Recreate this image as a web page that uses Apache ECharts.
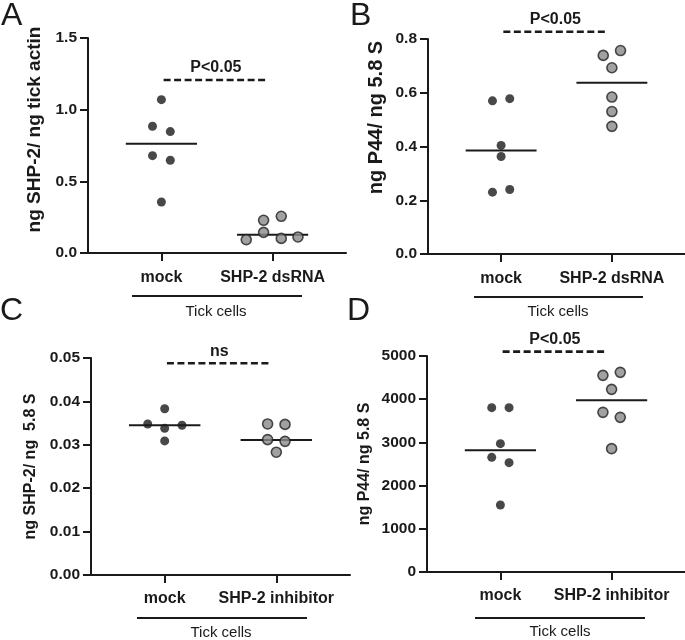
<!DOCTYPE html>
<html>
<head>
<meta charset="utf-8">
<script src="https://cdn.jsdelivr.net/npm/echarts@6/dist/echarts.min.js"></script>
<style>
  html, body { margin: 0; padding: 0; background: #fff; }
  #main { width: 685px; height: 640px; }
</style>
</head>
<body>
<div id="main"></div>
<script>
// categories
var catsA = ['mock', 'SHP-2 dsRNA'];
var catsC = ['mock', 'SHP-2 inhibitor'];

// panel A: ng SHP-2 / ng tick actin
var aMock = [1.07, 0.884, 0.847, 0.679, 0.647, 0.356];
var aMockJit = [0, -0.08, 0.08, -0.08, 0.08, 0];
var aDs = [0.093, 0.228, 0.144, 0.256, 0.102, 0.112];
var aDsJit = [-0.237, -0.081, -0.081, 0.078, 0.078, 0.228];
var aMeans = [0.763, 0.128];

// panel B: ng P44 / ng 5.8 S
var bMock = [0.570, 0.578, 0.404, 0.363, 0.230, 0.240];
var bMockJit = [-0.078, 0.078, 0, 0, -0.078, 0.078];
var bDs = [0.739, 0.757, 0.693, 0.584, 0.530, 0.475];
var bDsJit = [-0.078, 0.078, 0, 0, 0, 0];
var bMeans = [0.385, 0.637];

// panel C: ng SHP-2 / ng 5.8 S
var cMock = [0.0383, 0.0348, 0.0338, 0.0345, 0.0309];
var cMockJit = [0, -0.152, 0, 0.155, 0];
var cInh = [0.0348, 0.0347, 0.0312, 0.0308, 0.0283];
var cInhJit = [-0.078, 0.078, -0.078, 0.078, 0];
var cMeans = [0.0345, 0.0311];

// panel D: ng P44 / ng 5.8 S
var dMock = [3804, 3804, 2971, 2654, 2531, 1551];
var dMockJit = [-0.078, 0.078, 0, -0.078, 0.078, 0];
var dInh = [4552, 4622, 4228, 3696, 3580, 2855];
var dInhJit = [-0.078, 0.078, 0, -0.078, 0.078, 0];
var dMeans = [2816, 3974];

// significance bars
var sigText = ['P<0.05', 'P<0.05', 'ns', 'P<0.05'];
var sigLevel = [1.207, 0.827, 0.0488, 5102];

// y axes
var yMax = [1.5, 0.8, 0.05, 5000];
var yStep = [0.5, 0.2, 0.01, 1000];
var yDigits = [1, 1, 2, 0];
var yNames = ['ng SHP-2/ ng tick actin', 'ng P44/ ng 5.8 S', 'ng SHP-2/ ng  5.8 S', 'ng P44/ ng 5.8 S'];

var FONT = 'Liberation Sans, Arial, sans-serif';
var INK = '#1a1a1a';

var panels = [
  {cats: catsA, g1: aMock, j1: aMockJit, g2: aDs, j2: aDsJit, means: aMeans},
  {cats: catsA, g1: bMock, j1: bMockJit, g2: bDs, j2: bDsJit, means: bMeans},
  {cats: catsC, g1: cMock, j1: cMockJit, g2: cInh, j2: cInhJit, means: cMeans},
  {cats: catsC, g1: dMock, j1: dMockJit, g2: dInh, j2: dInhJit, means: dMeans}
];

var grids = [
  {left: 88, top: 38, width: 258, height: 215},
  {left: 428, top: 39, width: 257, height: 215},
  {left: 91, top: 358, width: 259, height: 217},
  {left: 427, top: 356, width: 258, height: 216}
];
var nameSize = [19, 20, 16, 16];
var nameGaps = [44, 42, 52, 54];
var namePad = [[0, 0, 0, 32], [0, 0, 0, 58], [0, 0, 0, 0], [0, 0, 0, 0]];

function pts(vals, jit, center) {
  return vals.map(function (v, i) { return [center + jit[i], v]; });
}

var xAxes = [], yAxes = [], series = [];
panels.forEach(function (p, k) {
  xAxes.push({
    type: 'value', gridIndex: k, min: 0.34, max: 2.66,
    splitLine: {show: false},
    axisLine: {lineStyle: {color: INK, width: 2}},
    axisTick: {customValues: [1, 2], length: 8, lineStyle: {color: INK, width: 2}},
    axisLabel: {
      customValues: [1, 2], margin: k < 2 ? 17 : 16, color: INK,
      fontFamily: FONT, fontWeight: 'bold', fontSize: 16,
      formatter: function (v) { return p.cats[Math.round(v) - 1]; }
    }
  });
  yAxes.push({
    type: 'value', gridIndex: k, min: 0, max: yMax[k], interval: yStep[k],
    name: yNames[k], nameLocation: 'middle', nameGap: nameGaps[k],
    nameTextStyle: {color: INK, fontFamily: FONT, fontWeight: 'bold', fontSize: nameSize[k], padding: namePad[k]},
    splitLine: {show: false},
    axisLine: {show: true, lineStyle: {color: INK, width: 2}},
    axisTick: {length: 8, lineStyle: {color: INK, width: 2}},
    axisLabel: {
      color: INK, fontFamily: FONT, fontWeight: 'bold', fontSize: 15.5, margin: 11,
      formatter: function (v) { return v.toFixed(yDigits[k]); }
    }
  });
  series.push({
    type: 'scatter', xAxisIndex: k, yAxisIndex: k, symbolSize: 9,
    itemStyle: {color: INK},
    data: pts(p.g1, p.j1, 1), z: 3
  });
  series.push({
    type: 'scatter', xAxisIndex: k, yAxisIndex: k, symbolSize: 10,
    itemStyle: {color: '#8a8a8a', borderColor: '#222', borderWidth: 1.6},
    data: pts(p.g2, p.j2, 2), z: 3
  });
  p.means.forEach(function (m, i) {
    series.push({
      type: 'line', xAxisIndex: k, yAxisIndex: k, symbol: 'none', z: 2,
      lineStyle: {color: INK, width: 2},
      data: [[i + 1 - 0.32, m], [i + 1 + 0.32, m]]
    });
  });
  series.push({
    type: 'line', xAxisIndex: k, yAxisIndex: k, clip: false,
    symbol: 'circle', symbolSize: 0.1, showSymbol: true,
    itemStyle: {color: INK},
    lineStyle: {color: INK, width: 2.6, type: [7, 3.5]},
    label: {
      show: true, position: 'top', distance: 4, color: INK,
      fontFamily: FONT, fontWeight: 'bold', fontSize: 16,
      formatter: function (q) { return q.dataIndex === 1 ? sigText[k] : ''; }
    },
    data: [[1.02, sigLevel[k]], [1.49, sigLevel[k]], [1.96, sigLevel[k]]]
  });
});

// panel letters and "Tick cells" group brackets
var letters = [['A', 1, 0], ['B', 350, 0], ['C', 0, 295], ['D', 347, 295]];
var brackets = [[132, 302, 296, 216, 304], [474, 643, 297, 558, 304], [137, 307, 618, 221, 625], [475, 645, 618, 560, 624]];
var graphic = [];
letters.forEach(function (l) {
  graphic.push({type: 'text', left: l[1], top: l[2],
    style: {text: l[0], font: '32px ' + FONT, fill: INK}});
});
brackets.forEach(function (b) {
  graphic.push({type: 'line', shape: {x1: b[0], y1: b[2], x2: b[1], y2: b[2]},
    style: {stroke: INK, lineWidth: 2}});
  graphic.push({type: 'text', x: b[3], y: b[4],
    style: {text: 'Tick cells', font: '15px ' + FONT, fill: INK, textAlign: 'center', textVerticalAlign: 'top'}});
});

var chart = echarts.init(document.getElementById('main'), null, {renderer: 'canvas'});
chart.setOption({
  backgroundColor: '#ffffff',
  animation: false,
  grid: grids,
  xAxis: xAxes,
  yAxis: yAxes,
  series: series,
  graphic: graphic
});
</script>
</body>
</html>
